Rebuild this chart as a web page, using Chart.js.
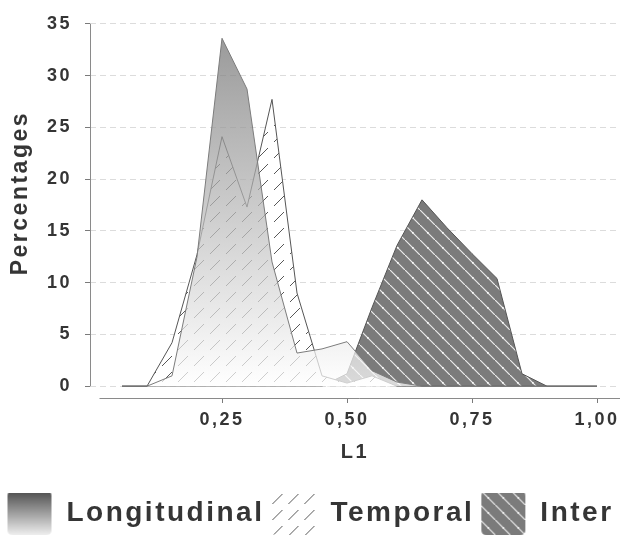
<!DOCTYPE html>
<html>
<head>
<meta charset="utf-8">
<script src="https://cdn.jsdelivr.net/npm/chart.js@4.4.0/dist/chart.umd.min.js"></script>
<style>
  html, body { margin: 0; padding: 0; background: #fff; }
  #wrap { width: 629px; height: 537px; }
</style>
</head>
<body>
<div id="wrap"><canvas id="myChart" width="629" height="537"></canvas></div>
<script>
// valeurs
const xValues = [0.05, 0.10, 0.15, 0.20, 0.25, 0.30, 0.35, 0.40, 0.45, 0.50,
                 0.55, 0.60, 0.65, 0.70, 0.75, 0.80, 0.85, 0.90, 0.95, 1.00];
const longitudinal = [0, 0, 1.0, 12.5, 33.6, 28.7, 12.0, 3.2, 3.6, 4.3,
                      1.5, 0.4, 0, 0, 0, 0, 0, 0, 0, 0];
const temporal = [0, 0, 4.2, 12.7, 24.1, 17.3, 27.7, 9.0, 1.0, 0.3,
                  1.0, 0, 0, 0, 0, 0, 0, 0, 0, 0];
const inter = [0, 0, 0, 0, 0, 0, 0, 0, 0, 1.2,
               7.6, 13.6, 18.0, 15.3, 12.8, 10.4, 1.2, 0, 0, 0];
const seriesNames = ["Longitudinal", "Temporal", "Inter"];
const xTicks = [0.25, 0.50, 0.75, 1.00];
const yTicks = [0, 5, 10, 15, 20, 25, 30, 35];

const textColor = "#353535";
const family = "'Liberation Sans', Arial, sans-serif";

function pts(values) {
  return values.map((v, i) => ({ x: xValues[i], y: v }));
}

// motif hachuré "/" en tirets (Temporal)
function hatchTemporal(withBg) {
  const c = document.createElement("canvas");
  c.width = 16; c.height = 16;
  const g = c.getContext("2d");
  if (withBg) { g.fillStyle = "#ffffff"; g.fillRect(0, 0, 16, 16); }
  g.strokeStyle = "rgba(70,70,70,0.9)";
  g.lineWidth = 1;
  g.beginPath(); g.moveTo(2, 14); g.lineTo(12, 4); g.stroke();
  return c;
}

// motif "\" blanc sur gris (Inter)
function hatchInter() {
  const c = document.createElement("canvas");
  c.width = 15; c.height = 15;
  const g = c.getContext("2d");
  g.fillStyle = "#7b7b7b"; g.fillRect(0, 0, 15, 15);
  g.strokeStyle = "rgba(255,255,255,0.85)";
  g.lineWidth = 1.2;
  g.beginPath(); g.moveTo(-2, -2); g.lineTo(17, 17); g.stroke();
  g.fillStyle = "#fff";
  g.fillRect(7, 7, 1.6, 1.6);
  return c;
}

const ctx0 = document.getElementById("myChart").getContext("2d");
const temporalPattern = ctx0.createPattern(hatchTemporal(true), "repeat");
const interPattern = ctx0.createPattern(hatchInter(), "repeat");

// icônes de la légende
function roundRect(g, x, y, w, h, r) {
  g.beginPath();
  g.moveTo(x + r, y); g.lineTo(x + w - r, y); g.quadraticCurveTo(x + w, y, x + w, y + r);
  g.lineTo(x + w, y + h - r); g.quadraticCurveTo(x + w, y + h, x + w - r, y + h);
  g.lineTo(x + r, y + h); g.quadraticCurveTo(x, y + h, x, y + h - r);
  g.lineTo(x, y + r); g.quadraticCurveTo(x, y, x + r, y);
  g.closePath();
}
function legendIcon(kind) {
  const c = document.createElement("canvas");
  c.width = 46; c.height = 46;
  const g = c.getContext("2d");
  roundRect(g, 1, 1, 44, 44, 5);
  if (kind === 0) {
    const gr = g.createLinearGradient(0, 0, 0, 46);
    gr.addColorStop(0, "#4a4a4a");
    gr.addColorStop(1, "#f2f2f2");
    g.fillStyle = gr; g.fill();
  } else if (kind === 1) {
    g.save(); g.clip();
    g.fillStyle = g.createPattern(hatchTemporal(false), "repeat");
    g.fillRect(0, 0, 46, 46);
    g.restore();
  } else {
    g.fillStyle = g.createPattern(hatchInter(), "repeat");
    g.fill();
  }
  return c;
}
const icons = [legendIcon(0), legendIcon(1), legendIcon(2)];

function longGradient(context) {
  const chart = context.chart;
  const area = chart.chartArea;
  if (!area) return "rgba(150,150,150,0.7)";
  const y0 = chart.scales.y.getPixelForValue(0);
  const gr = chart.ctx.createLinearGradient(0, area.top, 0, y0);
  gr.addColorStop(0, "rgba(110,110,110,0.72)");
  gr.addColorStop(1, "rgba(255,255,255,0.72)");
  return gr;
}

// espacement des lettres comme sur l'original
const letterSpacing = {
  id: "letterSpacing",
  beforeLayout(chart) { chart.ctx.letterSpacing = "2.5px"; },
  beforeDraw(chart) { chart.ctx.letterSpacing = "2.5px"; }
};

// axes décalés du graphe
const offsetAxes = {
  id: "offsetAxes",
  afterDraw(chart) {
    const { ctx, chartArea, scales } = chart;
    ctx.save();
    ctx.strokeStyle = "#8a8a8a";
    ctx.lineWidth = 1;
    ctx.beginPath();
    ctx.moveTo(chartArea.left + 0.5, scales.y.getPixelForValue(35));
    ctx.lineTo(chartArea.left + 0.5, scales.y.getPixelForValue(0));
    ctx.moveTo(scales.x.getPixelForValue(0.005), chartArea.bottom + 0.5);
    ctx.lineTo(chartArea.right, chartArea.bottom + 0.5);
    ctx.stroke();
    ctx.restore();
  }
};

const config = {
  type: "line",
  data: {
    datasets: [
      {
        label: seriesNames[0],
        data: pts(longitudinal),
        backgroundColor: longGradient,
        borderColor: "#7c7c7c",
        borderWidth: 1,
        fill: "origin",
        pointRadius: 0,
        tension: 0
      },
      {
        label: seriesNames[1],
        data: pts(temporal),
        backgroundColor: temporalPattern,
        borderColor: "#555555",
        borderWidth: 1,
        fill: "origin",
        pointRadius: 0,
        tension: 0
      },
      {
        label: seriesNames[2],
        data: pts(inter),
        backgroundColor: interPattern,
        borderColor: "#555555",
        borderWidth: 1,
        fill: "origin",
        pointRadius: 0,
        tension: 0
      }
    ]
  },
  options: {
    responsive: false,
    animation: false,
    layout: { padding: { top: 18, right: 9, left: 0, bottom: 0 } },
    plugins: {
      tooltip: { enabled: false },
      legend: {
        position: "bottom",
        labels: {
          usePointStyle: true,
          pointStyleWidth: 46,
          padding: 6,
          color: textColor,
          font: { family: family, size: 28, weight: "bold" },
          generateLabels(chart) {
            return chart.data.datasets.map((ds, i) => ({
              text: ds.label,
              pointStyle: icons[i],
              fillStyle: "transparent",
              strokeStyle: "transparent",
              lineWidth: 0,
              fontColor: textColor,
              hidden: false,
              datasetIndex: i
            }));
          }
        }
      }
    },
    scales: {
      x: {
        type: "linear",
        min: -0.014,
        max: 1.046,
        afterBuildTicks(scale) {
          scale.ticks = xTicks.map(v => ({ value: v }));
        },
        afterFit(scale) { scale.height = 95; },
        border: { display: false },
        grid: { drawOnChartArea: false, drawTicks: true, tickLength: 5, tickColor: "#7a7a7a" },
        ticks: {
          padding: 6,
          color: textColor,
          font: { family: family, size: 18, weight: "bold" },
          callback: v => v.toFixed(2).replace(".", ",")
        },
        title: {
          display: true,
          text: "L1",
          color: textColor,
          font: { family: family, size: 20, weight: "bold" },
          padding: { top: 0, bottom: 29 }
        }
      },
      y: {
        min: -1.14,
        max: 35,
        afterBuildTicks(scale) {
          scale.ticks = yTicks.map(v => ({ value: v }));
        },
        afterFit(scale) { scale.width = 90; },
        border: { display: false, dash: [6, 4] },
        grid: { color: "#dcdcdc", lineWidth: 1, drawTicks: true, tickLength: 5, tickColor: "#7a7a7a" },
        ticks: {
          padding: 13,
          color: textColor,
          font: { family: family, size: 18, weight: "bold" }
        },
        title: {
          display: true,
          text: "    Percentages",
          color: textColor,
          font: { family: family, size: 23, weight: "bold" },
          padding: { top: 7, bottom: 0 }
        }
      }
    }
  },
  plugins: [letterSpacing, offsetAxes]
};

new Chart(ctx0, config);
</script>
</body>
</html>
